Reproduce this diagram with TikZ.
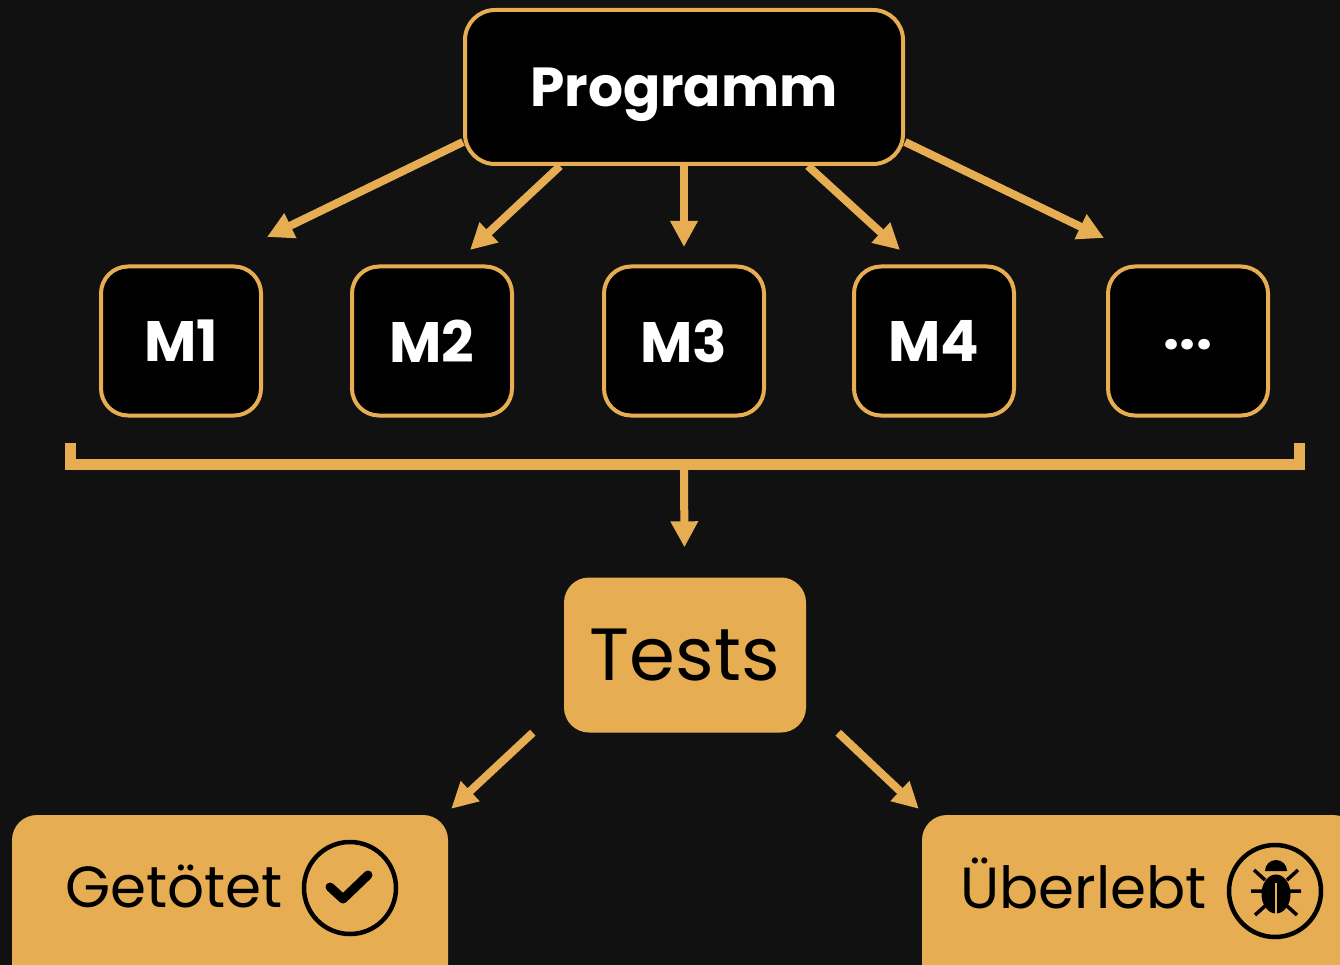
\documentclass[tikz,border=0pt]{standalone}
\usepackage{fontspec}
\setmainfont{Poppins}
\usetikzlibrary{arrows.meta}
\definecolor{gold}{HTML}{E7AD52}
\definecolor{bg}{HTML}{111111}

\begin{document}
\begin{tikzpicture}[x=1pt,y=-1pt,
  darkbox/.style={rectangle,rounded corners=27pt,fill=black,draw=gold,line width=4pt,
    minimum width=160pt,minimum height=149pt,inner sep=0pt,text=white,
    font=\fontsize{57}{60}\selectfont\bfseries},
  lightbox/.style={rectangle,rounded corners=25pt,fill=gold,inner sep=0pt},
  outtext/.style={anchor=base west,inner sep=0pt,font=\fontsize{58}{60}\selectfont},
  ring/.style={circle,draw=black,line width=4.5pt,minimum size=92pt,inner sep=0pt},
  arrow/.style={draw=gold,line width=8pt,-{Triangle[length=26pt,width=26pt]}}]
  \path[use as bounding box,fill=bg] (0,0) rectangle (1340,965);
  \clip (0,0) rectangle (1340,965);
  % program and its mutants
  \node[darkbox,minimum width=438pt,minimum height=154pt,rounded corners=30pt,
    text depth=0pt,font=\fontsize{55}{60}\selectfont\bfseries] (prog) at (684,87) {Programm};
  \node[darkbox] (m1) at (181,341) {M1};
  \node[darkbox] (m2) at (432,341) {M2};
  \node[darkbox] (m3) at (684,341) {M3};
  \node[darkbox] (m4) at (934,341) {M4};
  \node[darkbox,text height=17pt,text depth=0pt] (m5) at (1188,341) {...};
  \coordinate (m1tip) at (267,237);
  \coordinate (m2tip) at (470,250);
  \coordinate (m3tip) at (684,247);
  \coordinate (m4tip) at (900,250);
  \coordinate (m5tip) at (1104,238);
  \draw[arrow] ([yshift=-55pt]prog.west) -- (m1tip);
  \draw[arrow] ([xshift=-124pt]prog.south) -- (m2tip);
  \draw[arrow] (prog.south) -- (m3tip);
  \draw[arrow] ([xshift=124pt]prog.south) -- (m4tip);
  \draw[arrow] ([yshift=-55pt]prog.east) -- (m5tip);
  % bracket
  \coordinate (bl) at (70.5,443);
  \coordinate (br) at (1299.5,443);
  \coordinate (bmid) at (684,464.5);
  \draw[gold,line width=10.5pt] (bl) -- ++(0,21.5) -| (br);
  % tests
  \node[lightbox,minimum width=242pt,minimum height=155pt,
    font=\fontsize{74}{76}\selectfont] (tests) at (685,655) {Tests};
  \draw[arrow,shorten >=30pt] (bmid) -- (tests);
  % results
  \node[lightbox,minimum width=436pt,minimum height=190pt] (killed) at (230,910) {};
  \node[lightbox,minimum width=436pt,minimum height=190pt] (lived) at (1140,910) {};
  \node[outtext] (killedtxt) at (65,907) {Getötet};
  \node[outtext] (livedtxt) at (960,908) {Überlebt};
  \node[ring] (tick) at (350,888) {};
  \node[ring] (bug) at (1275,891) {};
  \draw[line width=9pt,line cap=round,line join=round]
    ([shift={(-20,-1)}]tick.center) -- ([shift={(-7,11)}]tick.center) -- ([shift={(18,-13)}]tick.center);
  \begin{scope}[shift={(bug.center)}]
    \fill (-10,-20) arc[start angle=180,end angle=360,radius=11] -- cycle;
    \fill (1,3) ellipse[x radius=14.5,y radius=19.5];
    \draw[gold,line width=2.5pt] (1,-8) -- (1,23);
    \draw[line width=3.5pt] (-21,-21) -- (-10,-11) (23,-21) -- (12,-11)
      (-24,0) -- (-12,0) (26,0) -- (14,0) (-20,24) -- (-10,15) (22,24) -- (12,15);
  \end{scope}
  \draw[arrow] ([xshift=-31pt]tests.south west) -- ([shift={(3,-6)}]killed.north east);
  \draw[arrow] ([xshift=32pt]tests.south east) -- ([shift={(-3,-6)}]lived.north west);
\end{tikzpicture}
\end{document}
